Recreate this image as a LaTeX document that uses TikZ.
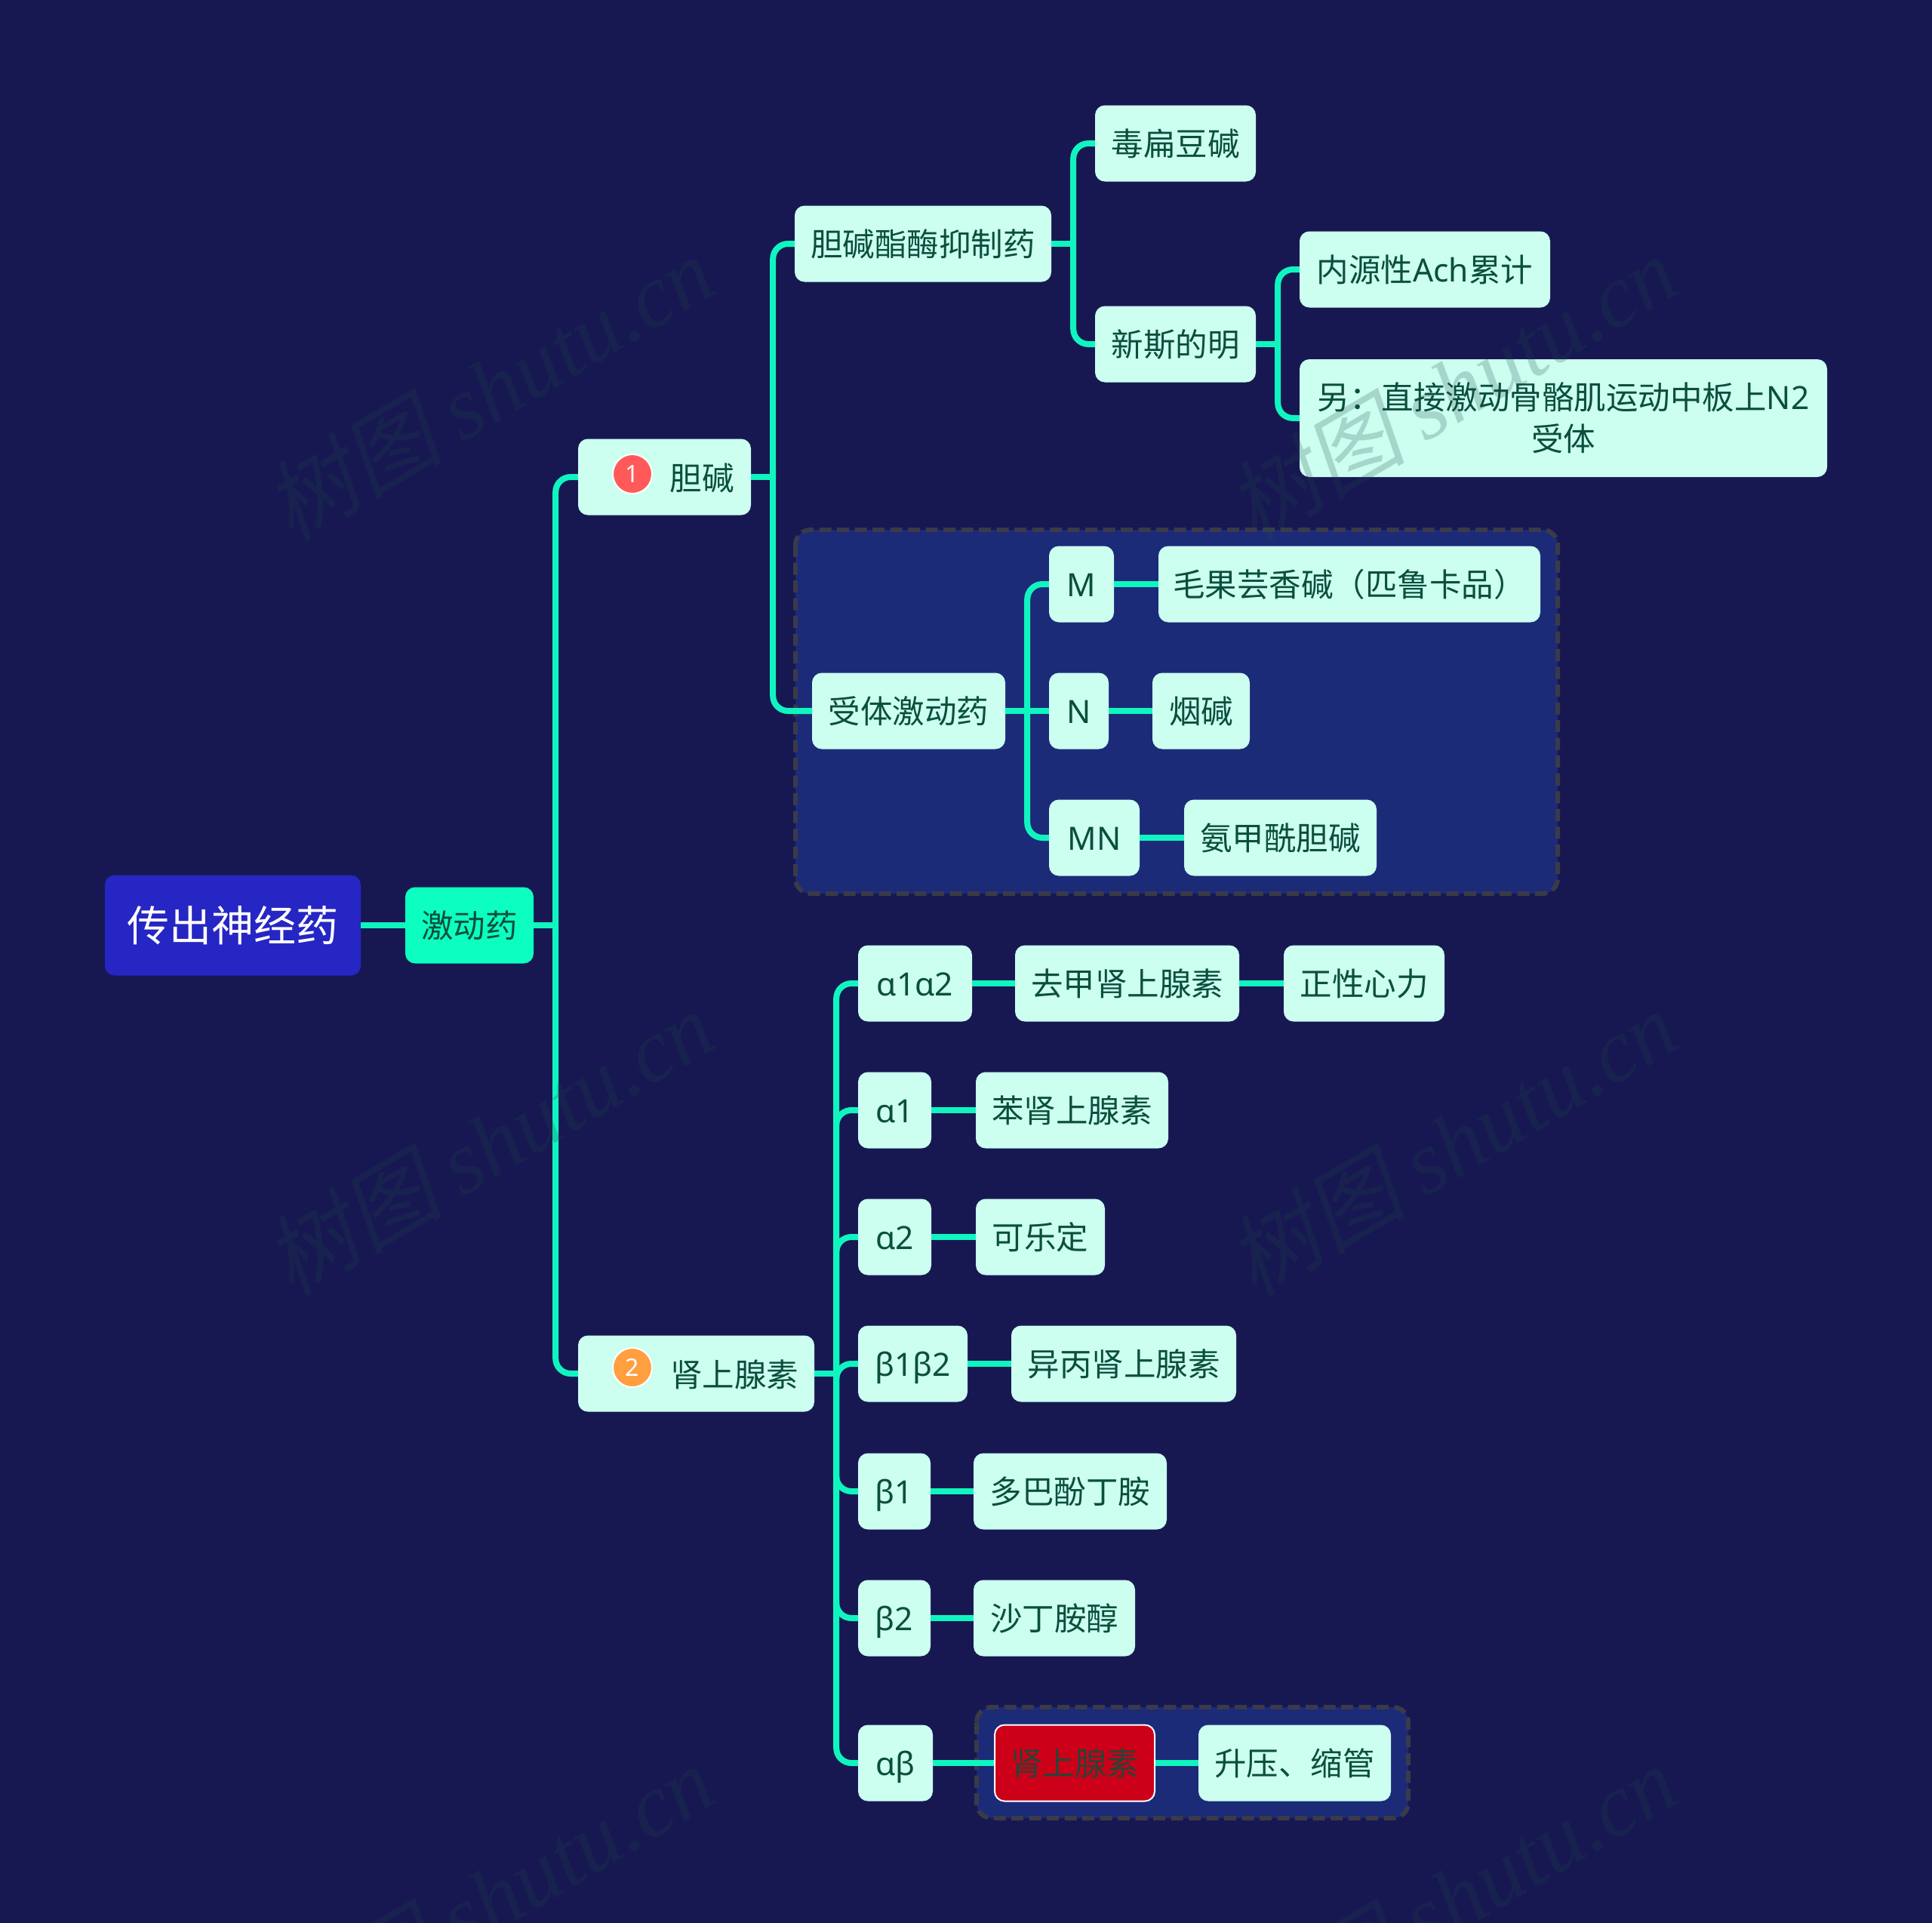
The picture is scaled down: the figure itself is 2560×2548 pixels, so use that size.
\documentclass[tikz,border=0pt]{standalone}
\usepackage{fontspec}
\setmainfont{Noto Sans CJK SC}
\newfontfamily\wmcjk[FakeSlant=0.2]{Noto Sans CJK SC}
\newfontfamily\wmlat{Liberation Serif}
\newfontfamily\latf{Noto Sans}
\usetikzlibrary{calc}
\definecolor{bgc}{HTML}{171852}
\definecolor{linec}{HTML}{10F5C0}
\definecolor{boxc}{HTML}{CCFFF0}
\definecolor{txtc}{HTML}{0A4F3C}
\definecolor{rootc}{HTML}{2626C4}
\definecolor{midc}{HTML}{0CFFC0}
\definecolor{groupc}{HTML}{1B2B78}
\definecolor{dashc}{HTML}{3A3A48}
\definecolor{redc}{HTML}{CC0018}
\definecolor{wmc}{HTML}{204848}
\tikzset{
  x=1pt,y=-1pt,
  basebox/.style={rectangle,rounded corners=13pt,inner sep=0pt,minimum height=101pt,font=\fontsize{42.5}{55}\selectfont,text=txtc,align=center,text height=37pt,text depth=5pt},
  leaf/.style={basebox,fill=boxc},
  rootbox/.style={basebox,fill=rootc,text=white,minimum height=133pt,font=\fontsize{56}{68}\selectfont,text height=49pt,text depth=7pt},
  midbox/.style={basebox,fill=midc,text=txtc},
  redbox/.style={basebox,fill=redc,draw=white,line width=2pt,text=txtc!85!redc},
  conn/.style={draw=linec,line width=8pt},
  bendline/.style={conn,rounded corners=20pt},
  groupbox/.style={fill=groupc,draw=dashc,line width=6pt,dash pattern=on 16pt off 7.5pt,rounded corners=20pt},
  plainlabel/.style={inner sep=0pt,font=\fontsize{42.5}{55}\selectfont,text=txtc},
  badge/.style={circle,draw=white,line width=2pt,minimum size=52pt,inner sep=0pt,text=white,font=\fontsize{32}{32}\selectfont},
  wmark/.style={rotate=30.5,text=wmc,text opacity=.22,inner sep=0pt,font=\fontsize{118}{118}\selectfont}
}
\newcommand{\nd}[6][leaf]{\node[#1,minimum width={(#4-#3)*1pt}] (#2) at ({(#3+#4)/2},#5) {#6};}
\newcommand{\elbow}[2]{\draw[conn] (#1.east) -- ++(29,0);
  \draw[bendline] ($(#1.east)+(29,0)$) |- (#2.west);}
\newcommand{\straight}[2]{\draw[conn] (#1.east) -- (#2.west);}
\begin{document}
\begin{tikzpicture}
\useasboundingbox[fill=bgc] (0,0) rectangle (2560,2548);
% group panels
\path[groupbox] (1054,702) rectangle (2064,1184);
\path[groupbox] (1294,2262) rectangle (1866,2409);
% nodes
\nd[rootbox]{root}{139}{478}{1226}{传出神经药}
\nd[midbox]{jd}{537}{707}{1226}{激动药}
\nd{dj}{766}{995}{632}{}
\nd{ss}{766}{1079}{1820}{}
\nd{zm}{1053}{1393}{323}{胆碱酯酶抑制药}
\nd{st}{1076}{1332}{942}{受体激动药}
\nd{dbd}{1451}{1664}{190}{毒扁豆碱}
\nd{xs}{1451}{1664}{456}{新斯的明}
\nd{ny}{1722}{2054}{357}{内源性{\latf Ach}累计}
\node[leaf,minimum width=699pt,minimum height=156pt,text height=,text depth=] (ling) at (2071.5,554) {另：直接激动骨骼肌运动中板上{\latf N2}\\受体};
\nd{m}{1390}{1476}{774}{\latf M}
\nd{mg}{1535}{2041}{774}{毛果芸香碱（匹鲁卡品）}
\nd{n}{1390}{1469}{942}{\latf N}
\nd{yj}{1527}{1656}{942}{烟碱}
\nd{mn}{1390}{1510}{1110}{\latf MN}
\nd{aj}{1569}{1824}{1110}{氨甲酰胆碱}
\nd{aa}{1137}{1288}{1303}{\latf α1α2}
\nd{qj}{1345}{1642}{1303}{去甲肾上腺素}
\nd{zx}{1701}{1914}{1303}{正性心力}
\nd{a1}{1137}{1234}{1471}{\latf α1}
\nd{bs}{1293}{1548}{1471}{苯肾上腺素}
\nd{a2}{1137}{1234}{1639}{\latf α2}
\nd{kl}{1293}{1464}{1639}{可乐定}
\nd{bb}{1137}{1282}{1807}{\latf β1β2}
\nd{yb}{1340}{1638}{1807}{异丙肾上腺素}
\nd{b1}{1137}{1233}{1976}{\latf β1}
\nd{db}{1290}{1546}{1976}{多巴酚丁胺}
\nd{b2}{1137}{1233}{2144}{\latf β2}
\nd{sd}{1290}{1504}{2144}{沙丁胺醇}
\nd{ab}{1137}{1236}{2336}{\latf αβ}
\nd[redbox]{ad}{1318}{1530}{2336}{肾上腺素}
\nd{sy}{1588}{1843}{2336}{升压、缩管}
% badges and labels inside the two numbered boxes
\node[badge,fill=red!65!white] (bd1) at (838,628) {\latf\bfseries 1};
\node[plainlabel] (djt) at (930,633) {胆碱};
\node[badge,fill=orange!75!white] (bd2) at (838,1812) {\latf\bfseries 2};
\node[plainlabel] (sst) at (973,1821) {肾上腺素};
% connectors
\straight{root}{jd}
\elbow{jd}{dj}\elbow{jd}{ss}
\elbow{dj}{zm}\elbow{dj}{st}
\elbow{zm}{dbd}\elbow{zm}{xs}
\elbow{xs}{ny}\elbow{xs}{ling}
\elbow{st}{m}\straight{st}{n}\elbow{st}{mn}
\straight{m}{mg}\straight{n}{yj}\straight{mn}{aj}
\elbow{ss}{aa}\elbow{ss}{a1}\elbow{ss}{a2}\elbow{ss}{bb}\elbow{ss}{b1}\elbow{ss}{b2}\elbow{ss}{ab}
\straight{aa}{qj}\straight{qj}{zx}
\straight{a1}{bs}\straight{a2}{kl}\straight{bb}{yb}\straight{b1}{db}\straight{b2}{sd}
\straight{ab}{ad}\straight{ad}{sy}
% watermarks
\foreach \wx/\wy/\wn in {648/514/wa,1924/514/wb,648/1514/wc,1924/1514/wd,648/2514/we,1924/2514/wf}{
  \node[wmark] (\wn) at (\wx,\wy) {{\wmcjk 树图} {\wmlat\itshape shutu.cn}};
}
\end{tikzpicture}
\end{document}
